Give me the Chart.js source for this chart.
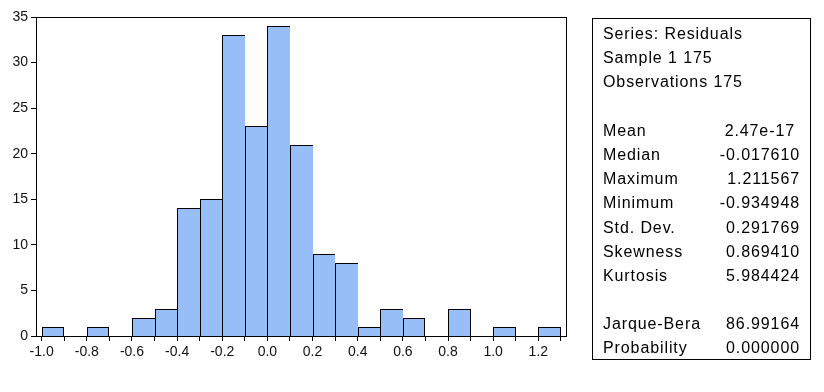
<!DOCTYPE html>
<html>
<head>
<meta charset="utf-8">
<script src="https://cdn.jsdelivr.net/npm/chart.js@4"></script>
<style>
  body { margin: 0; background: #fff; }
  #wrap { position: relative; width: 824px; height: 392px; }
  #stats {
    position: absolute; left: 592px; top: 18px; width: 219px; height: 342px;
    border: 1px solid #000; box-sizing: border-box;
    font-family: "Liberation Sans", Arial, sans-serif; font-size: 16px; letter-spacing: 0.9px;
    color: #000; padding: 3px 10px 0 10px;
  }
  #stats .row { height: 24.2px; line-height: 24.2px; display: flex; justify-content: space-between; white-space: nowrap; }
</style>
</head>
<body>
<div id="wrap">
  <canvas id="hist" width="824" height="392"></canvas>
  <div id="stats"></div>
</div>
<script>
// histogram bins (left edge of each 0.1 wide bin) and counts
var binStarts = [-1.0, -0.9, -0.8, -0.7, -0.6, -0.5, -0.4, -0.3, -0.2, -0.1, 0.0, 0.1,
                 0.2, 0.3, 0.4, 0.5, 0.6, 0.7, 0.8, 0.9, 1.0, 1.1, 1.2];
var counts    = [1, 0, 1, 0, 2, 3, 14, 15, 33, 23, 34, 21,
                 9, 8, 1, 3, 2, 0, 3, 0, 1, 0, 1];
var binWidth = 0.1;

var xTickValues = [-1.0, -0.9, -0.8, -0.7, -0.6, -0.5, -0.4, -0.3, -0.2, -0.1, 0.0, 0.1,
                   0.2, 0.3, 0.4, 0.5, 0.6, 0.7, 0.8, 0.9, 1.0, 1.1, 1.2, 1.3];
var xTickLabels = ['-1.0', '-0.8', '-0.6', '-0.4', '-0.2', '0.0', '0.2', '0.4', '0.6', '0.8', '1.0', '1.2'];
var yTickValues = [0, 5, 10, 15, 20, 25, 30, 35];

var statLabels = ['Series: Residuals', 'Sample 1 175', 'Observations 175', '',
                  'Mean', 'Median', 'Maximum', 'Minimum', 'Std. Dev.', 'Skewness', 'Kurtosis', '',
                  'Jarque-Bera', 'Probability'];
var statValues = ['', '', '', '',
                  '2.47e-17', '-0.017610', '1.211567', '-0.934948', '0.291769', '0.869410', '5.984424', '',
                  '86.99164', '0.000000'];

var box = document.getElementById('stats');
statLabels.forEach(function (lab, i) {
  var row = document.createElement('div');
  row.className = 'row';
  var a = document.createElement('span');
  a.textContent = lab || '\u00a0';
  var b = document.createElement('span');
  b.textContent = statValues[i];
  if (statValues[i] === '2.47e-17') b.style.paddingRight = '5px';
  row.appendChild(a);
  row.appendChild(b);
  box.appendChild(row);
});

var points = binStarts.map(function (s, i) {
  return { x: s + binWidth / 2, y: counts[i] };
});

// snap bar edges to whole pixels so the 1px outlines stay crisp
var snapBars = {
  id: 'snapBars',
  beforeDatasetsDraw: function (chart) {
    chart.getDatasetMeta(0).data.forEach(function (el) {
      var l = Math.round(el.x - el.width / 2), r = Math.round(el.x + el.width / 2);
      el.x = (l + r) / 2;
      el.width = r - l;
      el.y = Math.round(el.y);
      el.base = Math.round(el.base);
    });
  }
};

var frame = {
  id: 'frame',
  afterDraw: function (chart) {
    var a = chart.chartArea, ctx = chart.ctx;
    ctx.save();
    ctx.strokeStyle = '#000';
    ctx.lineWidth = 1;
    ctx.strokeRect(Math.round(a.left) + 0.5, Math.round(a.top) + 0.5,
                   Math.round(a.right - a.left) - 1, Math.round(a.bottom - a.top));
    ctx.restore();
  }
};

var tickFont = { family: '"Liberation Sans", Arial, sans-serif', size: 14 };

new Chart('hist', {
  type: 'bar',
  data: {
    datasets: [{
      data: points,
      backgroundColor: 'rgb(152,190,248)',
      borderColor: '#000',
      borderWidth: function (c) {
        var i = c.dataIndex;
        var nextEmpty = i === counts.length - 1 || counts[i + 1] === 0;
        return { top: 1, left: 1, right: nextEmpty ? 1 : 0, bottom: 0 };
      },
      borderSkipped: false,
      inflateAmount: 0,
      barPercentage: 1,
      categoryPercentage: 1
    }]
  },
  options: {
    responsive: false,
    animation: false,
    layout: { padding: { left: 0, top: 17, right: 257, bottom: 0 } },
    plugins: { legend: { display: false }, tooltip: { enabled: false } },
    scales: {
      x: {
        type: 'linear',
        offset: false,
        min: -1.025,
        max: 1.327,
        afterBuildTicks: function (s) { s.ticks = xTickValues.map(function (v) { return { value: v }; }); },
        afterFit: function (s) { s.height = 56; },
        grid: { drawOnChartArea: false, offset: false, tickLength: 5, color: '#000', tickColor: '#000' },
        border: { display: false },
        ticks: {
          color: '#111', font: tickFont, padding: 3, maxRotation: 0, autoSkip: false,
          callback: function (v) {
            var t = (Math.abs(v) < 1e-9 ? 0 : v).toFixed(1);
            return xTickLabels.indexOf(t) >= 0 ? t : '';
          }
        }
      },
      y: {
        min: 0,
        max: 35,
        afterBuildTicks: function (s) { s.ticks = yTickValues.map(function (v) { return { value: v }; }); },
        afterFit: function (s) { s.width = 36; },
        grid: { drawOnChartArea: false, tickLength: 5, color: '#000', tickColor: '#000' },
        border: { display: false },
        ticks: { color: '#111', font: tickFont, padding: 3 }
      }
    }
  },
  plugins: [snapBars, frame]
});
</script>
</body>
</html>
